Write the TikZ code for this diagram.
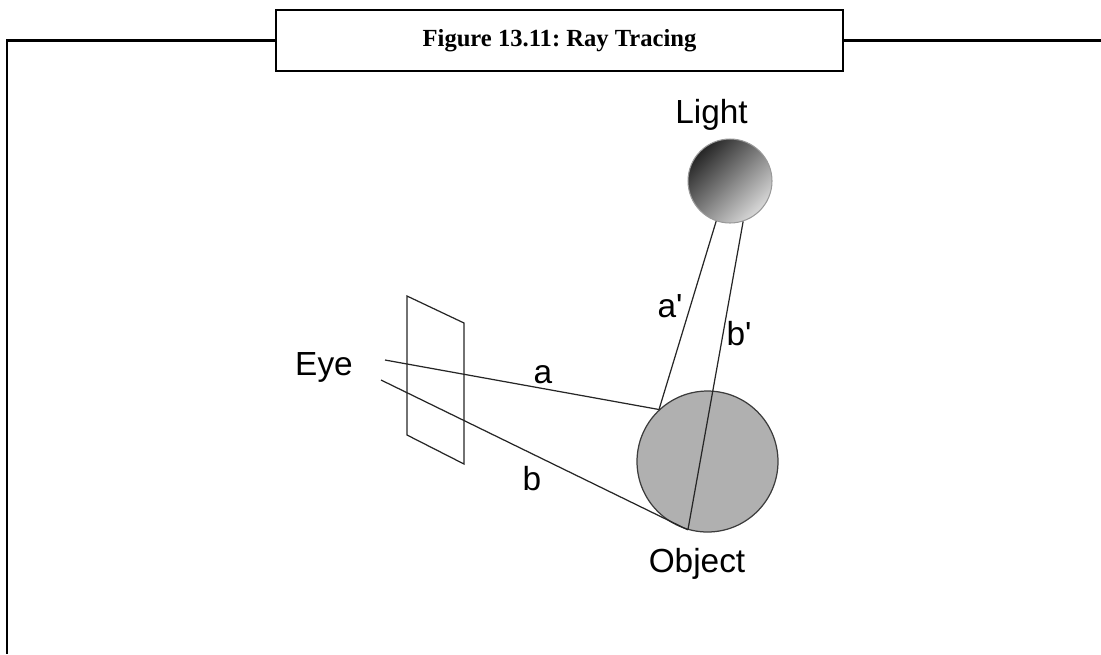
\documentclass[tikz,border=0pt]{standalone}
\usepackage{fontspec}
\setmainfont{Liberation Serif}
\newfontfamily\labelfont{Liberation Sans}
\usepackage{tikz}
\usetikzlibrary{calc}
\definecolor{objgray}{HTML}{B0B0B0}
\definecolor{rimgray}{HTML}{3C3C3C}
\frenchspacing

\begin{document}
\begin{tikzpicture}[
    x=0.02cm,y=-0.02cm,
    frame/.style   = {line width=1.3pt},
    ray/.style     = {draw=black!85,line width=0.7pt},
    lbl/.style     = {font=\labelfont\fontsize{19}{22}\selectfont,anchor=base,inner sep=0pt},
    lightball/.style = {circle,inner sep=0pt,minimum size=1.68cm,draw=black!40,line width=0.6pt,
                        top color=black!85,bottom color=black!15,shading angle=45},
    objball/.style = {circle,inner sep=0pt,minimum size=2.82cm,fill=objgray,draw=rimgray,line width=0.7pt},
  ]
  \useasboundingbox (0,0) rectangle (1101,654);

  % Titre et cadre
  \node[draw,frame,minimum width=11.34cm,minimum height=1.22cm,
        font=\bfseries\fontsize{14}{16}\selectfont] (title) at (559.5,40.5)
       {Figure 13.11: Ray Tracing};
  \coordinate (bottomleft) at (7,654);
  \coordinate (rightend) at (1101,39);
  \draw[frame] (title.west) -- (title.west -| bottomleft) -- (bottomleft);
  \draw[frame] (title.east) -- (title.east -| rightend);

  % Sphères
  \node[lightball] (light) at (730,181) {};
  \node[objball] (object) at (707.5,461.5) {};
  \node[lbl] (lightlbl) at (711.5,123) {Light};
  \node[lbl] (objlbl) at (697,572) {Object};

  % Écran
  \draw[ray] (407,296) -- (464,323) -- (464,464) -- (407,435) -- cycle;

  % Oeil et rayons
  \node[lbl] (eyelbl) at (324,375) {Eye};
  \coordinate (eyeA) at (385,360);
  \coordinate (eyeB) at (381,380);
  \draw[ray] (eyeA) -- (object.133);
  \draw[ray] (eyeB) -- (object.254);
  \draw[ray] (light.251) -- (object.133);
  \draw[ray] (light.288) -- (object.254);

  \node[lbl] (albl) at (543,383) {a};
  \node[lbl] (blbl) at (532,490) {b};
  \node[lbl] (aplbl) at (670,317) {a\textquotesingle};
  \node[lbl] (bplbl) at (739,345) {b\textquotesingle};

\end{tikzpicture}
\end{document}
